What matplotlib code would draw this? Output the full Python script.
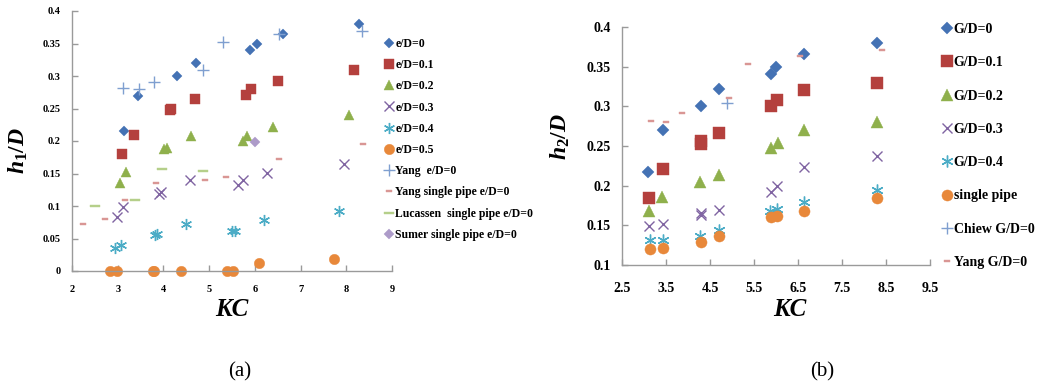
import matplotlib
matplotlib.use("Agg")
import matplotlib.pyplot as plt
from matplotlib import rcParams

rcParams.update({
    'font.family': 'serif',
    'font.serif': ['Liberation Serif', 'DejaVu Serif'],
    'font.weight': 'bold',
    'mathtext.fontset': 'custom',
    'mathtext.rm': 'Liberation Serif:bold',
    'mathtext.it': 'Liberation Serif:italic:bold',
    'mathtext.bf': 'Liberation Serif:bold',
})

# ===== panel (a) data: h1/D vs KC =====
a_e0_kc = [3.13, 3.44, 4.29, 4.71, 5.90, 6.04, 6.62, 8.28]
a_e0_h = [0.216, 0.270, 0.300, 0.320, 0.340, 0.350, 0.365, 0.380]
a_e01_kc = [3.09, 3.35, 4.14, 4.16, 4.68, 5.80, 5.91, 6.50, 8.16]
a_e01_h = [0.180, 0.210, 0.247, 0.249, 0.265, 0.271, 0.280, 0.293, 0.310]
a_e02_kc = [3.04, 3.19, 4.02, 4.07, 4.61, 5.73, 5.82, 6.40, 8.06]
a_e02_h = [0.135, 0.153, 0.188, 0.190, 0.207, 0.200, 0.208, 0.222, 0.240]
a_e03_kc = [2.98, 3.12, 3.91, 3.94, 4.58, 5.63, 5.73, 6.27, 7.94]
a_e03_h = [0.083, 0.099, 0.118, 0.122, 0.140, 0.132, 0.140, 0.151, 0.165]
a_e04_kc = [2.93, 3.07, 3.82, 3.85, 4.49, 5.50, 5.57, 6.19, 7.83]
a_e04_h = [0.036, 0.040, 0.055, 0.057, 0.072, 0.061, 0.061, 0.078, 0.093]
a_e05_kc = [2.83, 2.98, 3.77, 3.80, 4.39, 5.40, 5.53, 6.09, 7.74]
a_e05_h = [0.0, 0.0, 0.0, 0.0, 0.0, 0.0, 0.0, 0.012, 0.019]
a_yang_kc = [3.12, 3.47, 3.80, 4.87, 5.31, 6.53, 8.34]
a_yang_h = [0.282, 0.280, 0.291, 0.310, 0.352, 0.364, 0.370]
a_yangsp_kc = [2.25, 2.72, 3.16, 3.84, 4.90, 5.36, 6.53, 8.37]
a_yangsp_h = [0.073, 0.080, 0.110, 0.136, 0.140, 0.144, 0.173, 0.196]
a_luc_kc = [2.50, 3.38, 3.96, 4.87]
a_luc_h = [0.100, 0.110, 0.157, 0.154]
a_sumer_kc = [6.00]
a_sumer_h = [0.199]

# ===== panel (b) data: h2/D vs KC =====
b_kc = [3.12, 3.44, 4.29, 4.29, 4.71, 5.89, 6.03, 6.64, 8.29]
b_g0_kc = [3.10, 3.44, 4.30, 4.71, 5.88, 6.01, 6.64, 8.29]
b_g0_h = [0.217, 0.270, 0.301, 0.322, 0.341, 0.349, 0.366, 0.380]
b_g01_h = [0.185, 0.221, 0.252, 0.256, 0.266, 0.301, 0.308, 0.320, 0.330]
b_g02_kc = [3.12, 3.42, 4.28, 4.71, 5.89, 6.05, 6.64, 8.29]
b_g02_h = [0.168, 0.186, 0.204, 0.213, 0.248, 0.254, 0.270, 0.280]
b_g03_h = [0.149, 0.152, 0.163, 0.166, 0.169, 0.192, 0.200, 0.223, 0.237]
b_g04_kc = [3.14, 3.44, 4.28, 4.71, 5.86, 6.03, 6.64, 8.29]
b_g04_h = [0.131, 0.132, 0.137, 0.144, 0.168, 0.170, 0.179, 0.195]
b_sp_kc = [3.14, 3.44, 4.30, 4.71, 5.89, 6.03, 6.64, 8.29]
b_sp_h = [0.120, 0.122, 0.129, 0.137, 0.160, 0.162, 0.168, 0.185]
b_chiew_kc = [4.88]
b_chiew_h = [0.304]
b_yang_kc = [3.15, 3.51, 3.86, 4.93, 5.37, 6.55, 8.40]
b_yang_h = [0.282, 0.280, 0.291, 0.310, 0.353, 0.364, 0.371]

a_xticks = [2, 3, 4, 5, 6, 7, 8, 9]
a_yticks = [0, 0.05, 0.1, 0.15, 0.2, 0.25, 0.3, 0.35, 0.4]
a_ylabels = ['0', '0.05', '0.1', '0.15', '0.2', '0.25', '0.3', '0.35', '0.4']
b_xticks = [2.5, 3.5, 4.5, 5.5, 6.5, 7.5, 8.5, 9.5]
b_yticks = [0.1, 0.15, 0.2, 0.25, 0.3, 0.35, 0.4]
b_ylabels = ['0.1', '0.15', '0.2', '0.25', '0.3', '0.35', '0.4']

# Excel-like colours
BLUE = '#4472b4'
RED = '#b4403d'
GREEN = '#8fb04c'
PURPLE = '#8064a2'
CYAN = '#4bacc6'
ORANGE = '#e8883a'
LBLUE = '#7f9fd0'
PINK = '#d99694'
LGREEN = '#b5cf8a'
LPURPLE = '#ad9bc9'

DASH = [(-1.5, -0.5), (1.5, -0.5), (1.5, 0.5), (-1.5, 0.5), (-1.5, -0.5)]
LDASH = [(-2.5, -0.45), (2.5, -0.45), (2.5, 0.45), (-2.5, 0.45), (-2.5, -0.45)]
AST = (6, 2, 0)


def style_axes(ax, tick_fs, pad_x, pad_y):
    for s in ['top', 'right']:
        ax.spines[s].set_visible(False)
    for s in ['left', 'bottom']:
        ax.spines[s].set_color('#9a9a9a')
        ax.spines[s].set_linewidth(1.0)
    ax.tick_params(direction='in', length=4, width=1, color='#9a9a9a',
                   labelsize=tick_fs)
    ax.tick_params(axis='x', pad=pad_x)
    ax.tick_params(axis='y', pad=pad_y)
    for lbl in ax.get_xticklabels() + ax.get_yticklabels():
        lbl.set_fontweight('bold')


def series(ax, x, y, marker, color, ms, label, mew=1.0):
    filled = marker not in ('x', '+') and marker != AST
    ax.plot(x, y, linestyle='none', marker=marker, markersize=ms,
            color=color, markeredgecolor=color, markeredgewidth=mew if not filled else 0.3,
            label=label, clip_on=False)


fig = plt.figure(figsize=(10.38, 3.91), dpi=100)

# ---------- (a) ----------
ax1 = fig.add_axes([72 / 1038, 1 - 271 / 391, 320 / 1038, 260 / 391])
series(ax1, a_e0_kc, a_e0_h, 'D', BLUE, 5.5, 'e/D=0')
series(ax1, a_e01_kc, a_e01_h, 's', RED, 7.5, 'e/D=0.1')
series(ax1, a_e02_kc, a_e02_h, '^', GREEN, 7.5, 'e/D=0.2')
series(ax1, a_e03_kc, a_e03_h, 'x', PURPLE, 7, 'e/D=0.3')
series(ax1, a_e04_kc, a_e04_h, AST, CYAN, 8, 'e/D=0.4')
series(ax1, a_e05_kc, a_e05_h, 'o', ORANGE, 7.5, 'e/D=0.5')
series(ax1, a_yang_kc, a_yang_h, '+', LBLUE, 8, 'Yang  e/D=0')
series(ax1, a_yangsp_kc, a_yangsp_h, DASH, PINK, 4.5, 'Yang single pipe e/D=0')
series(ax1, a_luc_kc, a_luc_h, LDASH, LGREEN, 7.5, 'Lucassen  single pipe e/D=0')
series(ax1, a_sumer_kc, a_sumer_h, 'D', LPURPLE, 5.5, 'Sumer single pipe e/D=0')
ax1.set_xlim(2, 9)
ax1.set_ylim(0, 0.4)
ax1.set_xticks(a_xticks)
ax1.set_yticks(a_yticks)
ax1.set_yticklabels(a_ylabels)
style_axes(ax1, 7.5, 10, 8)
ax1.legend(loc='upper left', bbox_to_anchor=(384 / 1038, 1 - 38 / 391),
           bbox_transform=fig.transFigure, frameon=False, fontsize=8.5,
           borderpad=0, borderaxespad=0, handlelength=0.8, handletextpad=0.15,
           labelspacing=0.78, numpoints=1)
fig.text(18 / 1038, 1 - 150 / 391, r'$h_{1}/D$', rotation=90, fontsize=17,
         ha='center', va='center')
fig.text(232 / 1038, 1 - 309 / 391, 'KC', fontsize=18, style='italic',
         weight='bold', ha='center', va='center')
fig.text(240 / 1038, 1 - 372 / 391, '(a)', fontsize=15, weight='normal',
         ha='center', va='center')

# ---------- (b) ----------
ax2 = fig.add_axes([622 / 1038, 1 - 265 / 391, 308 / 1038, 238 / 391])
series(ax2, b_g0_kc, b_g0_h, 'D', BLUE, 6, 'G/D=0')
series(ax2, b_kc, b_g01_h, 's', RED, 8, 'G/D=0.1')
series(ax2, b_g02_kc, b_g02_h, '^', GREEN, 8, 'G/D=0.2')
series(ax2, b_kc, b_g03_h, 'x', PURPLE, 7.5, 'G/D=0.3')
series(ax2, b_g04_kc, b_g04_h, AST, CYAN, 8.5, 'G/D=0.4')
series(ax2, b_sp_kc, b_sp_h, 'o', ORANGE, 8, 'single pipe')
series(ax2, b_chiew_kc, b_chiew_h, '+', LBLUE, 8.5, 'Chiew G/D=0')
series(ax2, b_yang_kc, b_yang_h, DASH, PINK, 5, 'Yang G/D=0')
ax2.set_xlim(2.5, 9.5)
ax2.set_ylim(0.1, 0.4)
ax2.set_xticks(b_xticks)
ax2.set_yticks(b_yticks)
ax2.set_yticklabels(b_ylabels)
style_axes(ax2, 10, 12, 8)
ax2.legend(loc='upper left', bbox_to_anchor=(941 / 1038, 1 - 23 / 391),
           bbox_transform=fig.transFigure, frameon=False, fontsize=10,
           borderpad=0, borderaxespad=0, handlelength=0.8, handletextpad=0.1,
           labelspacing=1.46, numpoints=1)
fig.text(560 / 1038, 1 - 136 / 391, r'$h_{2}/D$', rotation=90, fontsize=17,
         ha='center', va='center')
fig.text(790 / 1038, 1 - 309 / 391, 'KC', fontsize=18, style='italic',
         weight='bold', ha='center', va='center')
fig.text(822 / 1038, 1 - 372 / 391, '(b)', fontsize=15, weight='normal',
         ha='center', va='center')

fig.savefig('out.png', dpi=100)
